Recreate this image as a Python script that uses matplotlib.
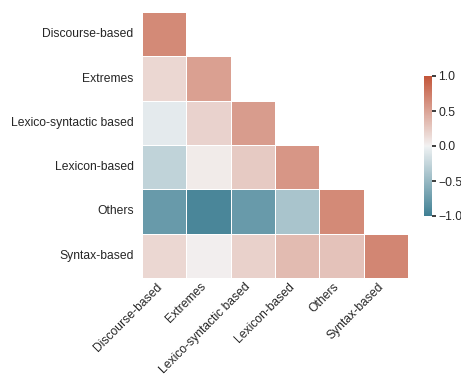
import numpy as np
import matplotlib.pyplot as plt
import seaborn as sns

labels = ["Discourse-based", "Extremes", "Lexico-syntactic based",
          "Lexicon-based", "Others", "Syntax-based"]

# lower triangle (incl. diagonal), row by row
row_discourse = [0.66]
row_extremes = [0.17, 0.52]
row_lexsyn = [-0.07, 0.20, 0.54]
row_lexicon = [-0.27, 0.04, 0.25, 0.58]
row_others = [-0.76, -0.93, -0.76, -0.40, 0.66]
row_syntax = [0.17, 0.02, 0.21, 0.35, 0.30, 0.68]

rows = [row_discourse, row_extremes, row_lexsyn, row_lexicon, row_others, row_syntax]
n = len(labels)
mat = np.zeros((n, n))
for i, r in enumerate(rows):
    mat[i, :len(r)] = r
    mat[:len(r), i] = r

mask = np.triu(np.ones_like(mat, dtype=bool), k=1)

sns.set_theme(style="white")
plt.rcParams['font.family'] = ['Liberation Sans', 'DejaVu Sans']

fig = plt.figure(figsize=(4.61, 3.76), dpi=100)
ax = fig.add_axes([142 / 461, 1 - 278 / 376, 266 / 461, 266 / 376])
cax = fig.add_axes([424 / 461, 1 - 216 / 376, 8 / 461, 140 / 376])

cmap = sns.diverging_palette(220, 20, as_cmap=True)
sns.heatmap(mat, mask=mask, cmap=cmap, vmin=-1, vmax=1, center=0,
            square=False, linewidths=.5, ax=ax, cbar_ax=cax,
            xticklabels=labels, yticklabels=labels)

ax.tick_params(axis='y', labelsize=8.7, length=0, pad=6)
ax.tick_params(axis='x', labelsize=8.7, length=0, pad=2)
ax.set_xticklabels(labels, rotation=45, ha='right')
ax.set_yticklabels(labels, rotation=0)
cax.tick_params(labelsize=8.7, length=3, pad=1.5)
cax.set_yticks([-1, -0.5, 0, 0.5, 1])

fig.savefig("out.png", dpi=100)
